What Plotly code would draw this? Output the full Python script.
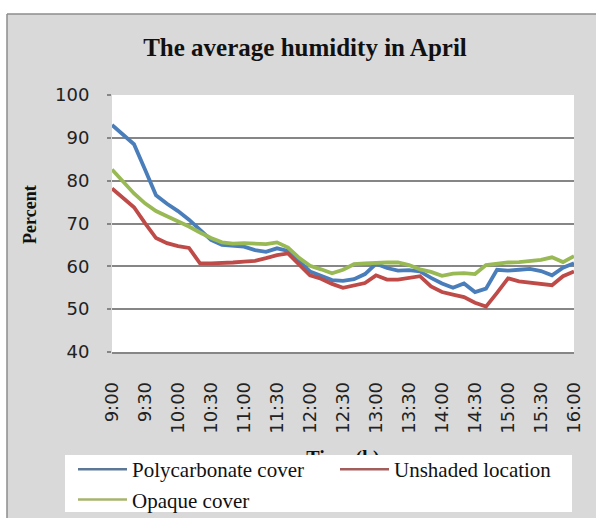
import plotly.graph_objects as go

# ---------------- data ----------------
times = ["9:00", "9:10", "9:20", "9:30", "9:40", "9:50",
         "10:00", "10:10", "10:20", "10:30", "10:40", "10:50",
         "11:00", "11:10", "11:20", "11:30", "11:40", "11:50",
         "12:00", "12:10", "12:20", "12:30", "12:40", "12:50",
         "13:00", "13:10", "13:20", "13:30", "13:40", "13:50",
         "14:00", "14:10", "14:20", "14:30", "14:40", "14:50",
         "15:00", "15:10", "15:20", "15:30", "15:40", "15:50",
         "16:00"]

polycarbonate = [93.0, 90.8, 88.5, 82.6, 76.6, 74.6,
                 72.9, 70.9, 68.5, 66.2, 65.0, 64.9,
                 64.6, 63.8, 63.4, 64.2, 63.6, 61.2,
                 58.8, 57.8, 56.8, 56.6, 57.0, 58.2,
                 60.6, 59.6, 59.0, 59.1, 58.8, 57.3,
                 56.0, 55.0, 56.0, 54.0, 54.8, 59.2,
                 59.0, 59.2, 59.4, 58.9, 57.9, 59.7,
                 60.7]

unshaded = [78.2, 76.1, 73.8, 70.1, 66.6, 65.4,
            64.7, 64.3, 60.7, 60.7, 60.7, 60.9,
            61.1, 61.3, 61.9, 62.6, 63.0, 60.3,
            57.9, 57.1, 55.9, 55.0, 55.6, 56.1,
            57.9, 56.9, 56.9, 57.3, 57.7, 55.3,
            54.0, 53.4, 52.8, 51.5, 50.6, 53.8,
            57.2, 56.5, 56.2, 55.7, 55.6, 57.7,
            58.8]

opaque = [82.6, 79.8, 77.0, 74.7, 72.9, 71.7,
          70.6, 69.3, 67.9, 66.6, 65.6, 65.3,
          65.4, 65.2, 65.2, 65.6, 64.4, 62.0,
          60.1, 59.3, 58.4, 59.2, 60.5, 60.7,
          60.9, 60.9, 60.9, 60.3, 59.3, 58.7,
          57.8, 58.3, 58.4, 58.2, 60.3, 60.7,
          60.9, 61.0, 61.2, 61.5, 62.1, 61.0,
          62.4]

tick_labels = ["9:00", "9:30", "10:00", "10:30", "11:00", "11:30", "12:00",
               "12:30", "13:00", "13:30", "14:00", "14:30", "15:00", "15:30",
               "16:00"]
y_ticks = [40, 50, 60, 70, 80, 90, 100]

series_names = ["Polycarbonate cover", "Unshaded location", "Opaque cover"]
series_colors = ["#4a7ebb", "#be4b48", "#98b954"]
legend_colors = ["#5d7896", "#a35e5c", "#a7b46c"]

# ---------------- layout geometry ----------------
W, H = 596, 518
L, R, T, B = 112, 22, 95, 166
PW, PH = W - L - R, H - T - B
Y0, Y1 = 40, 100


def px2x(px):
    return (px - L) / PW


def py2y(py):
    return (H - B - py) / PH


def py2val(py):
    return Y0 - (py - (H - B)) / PH * (Y1 - Y0)


fig = go.Figure()

for name, vals, col in zip(series_names, [polycarbonate, unshaded, opaque], series_colors):
    fig.add_trace(go.Scatter(x=times, y=vals, mode="lines", name=name,
                             line=dict(color=col, width=3.8), showlegend=False,
                             hoverinfo="x+y+name"))

# legend entries
for name, col in zip(series_names, legend_colors):
    fig.add_trace(go.Scatter(x=[None], y=[None], mode="lines", name=name,
                             line=dict(color=col, width=2.5), showlegend=True))

# x axis title (partly hidden behind the legend box, as in the original):
# anchored just inside the plot and pushed down with leading blank lines
fig.add_trace(go.Scatter(x=[times[21]], y=[py2val(346)], mode="text",
                         text=["<br><br><br><br><b>Time (h)</b>"], textposition="bottom center",
                         cliponaxis=False, showlegend=False, hoverinfo="skip",
                         textfont=dict(family="Liberation Serif", size=20, color="#111111")))

gray = "#868686"
fig.update_layout(
    width=W, height=H,
    margin=dict(l=L, r=R, t=T, b=B, pad=0, autoexpand=False),
    paper_bgcolor="#d9d9d9",
    plot_bgcolor="#ffffff",
    title=dict(text="<b>The average humidity in April</b>", x=305 / W, xanchor="center",
               y=1 - 47 / H, yanchor="middle", yref="container", xref="container",
               font=dict(family="Liberation Serif", size=25, color="#111111")),
    xaxis=dict(type="category", categoryorder="array", categoryarray=times,
               tickmode="array", tickvals=tick_labels, ticktext=tick_labels,
               tickangle=-90, showgrid=False, showline=True, linecolor=gray, linewidth=1.5,
               ticks="", ticklabelstandoff=21,
               tickfont=dict(family="DejaVu Sans", size=18, color="#222222"),
               zeroline=False, fixedrange=True),
    yaxis=dict(range=[Y0, Y1], tickvals=y_ticks, showgrid=True, gridcolor=gray, gridwidth=1.5,
               ticks="outside", ticklen=4, tickcolor=gray, tickwidth=1.5,
               ticklabelstandoff=14, zeroline=False, showline=False,
               tickfont=dict(family="DejaVu Sans", size=18, color="#222222")),
    legend=dict(orientation="h", x=px2x(73), y=py2y(449), xanchor="left", yanchor="top",
                bgcolor="rgba(0,0,0,0)", borderwidth=0, entrywidth=198, itemwidth=49,
                font=dict(family="Liberation Serif", size=21, color="#111111"),
                tracegroupgap=0),
    annotations=[dict(text="<b>Percent</b>", textangle=-90, x=px2x(30), y=py2y(215),
                      xref="paper", yref="paper", showarrow=False,
                      xanchor="center", yanchor="middle",
                      font=dict(family="Liberation Serif", size=18, color="#111111"))],
    shapes=[
        # white strips outside the chart border
        dict(type="rect", xref="paper", yref="paper", x0=px2x(-5), x1=px2x(W + 5),
             y0=py2y(14), y1=py2y(-5), fillcolor="#ffffff", line=dict(width=0), layer="above"),
        dict(type="rect", xref="paper", yref="paper", x0=px2x(-5), x1=px2x(7),
             y0=py2y(H + 5), y1=py2y(14), fillcolor="#ffffff", line=dict(width=0), layer="above"),
        # chart border
        dict(type="line", xref="paper", yref="paper", x0=px2x(7), x1=px2x(W + 5),
             y0=py2y(14), y1=py2y(14), line=dict(color="#8c8c8c", width=1.5), layer="above"),
        dict(type="line", xref="paper", yref="paper", x0=px2x(7), x1=px2x(7),
             y0=py2y(14), y1=py2y(H + 5), line=dict(color="#8c8c8c", width=1.5), layer="above"),
        # legend box
        dict(type="rect", xref="paper", yref="paper", x0=px2x(65), x1=px2x(572),
             y0=py2y(512), y1=py2y(455), fillcolor="#ffffff", line=dict(width=0), layer="above"),
    ],
)

fig.write_html("out.html")
